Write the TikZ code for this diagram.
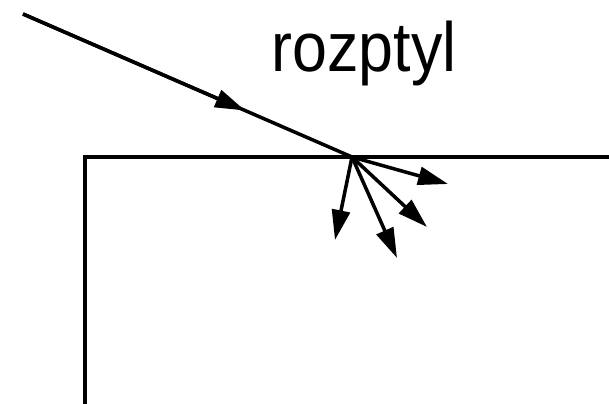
\documentclass[tikz,border=0pt]{standalone}
\usepackage{fontspec}
\newfontfamily\labelfont{Liberation Sans}[FakeStretch=0.9]
\usepackage{tikz}
\usetikzlibrary{arrows.meta,calc}

\begin{document}
\begin{tikzpicture}[x=0.02cm,y=-0.02cm,
  ray/.style={line width=2pt,-{Triangle[length=0.6cm,width=0.36cm]}}]
\useasboundingbox (0,0) rectangle (609,404);
\draw[line width=2pt] (85,406) -- (85,157) -- (612,157);
\coordinate (src) at (23,14);
\coordinate (hit) at (352,157);
\coordinate (mid) at ($(src)!0.675!(hit)$);
\draw[line width=2pt] (src) -- (hit);
\draw[ray] (src) -- (mid);
\coordinate (s1) at (448,184);
\coordinate (s2) at (427,227);
\coordinate (s3) at (397,258);
\coordinate (s4) at (335,240);
\foreach \t in {s1,s2,s3,s4}
  \draw[ray] (hit) -- (\t);
\node[font=\labelfont\fontsize{39.7}{44}\selectfont,anchor=base,inner sep=0pt] (lbl) at (364,72) {rozptyl};
\end{tikzpicture}
\end{document}
